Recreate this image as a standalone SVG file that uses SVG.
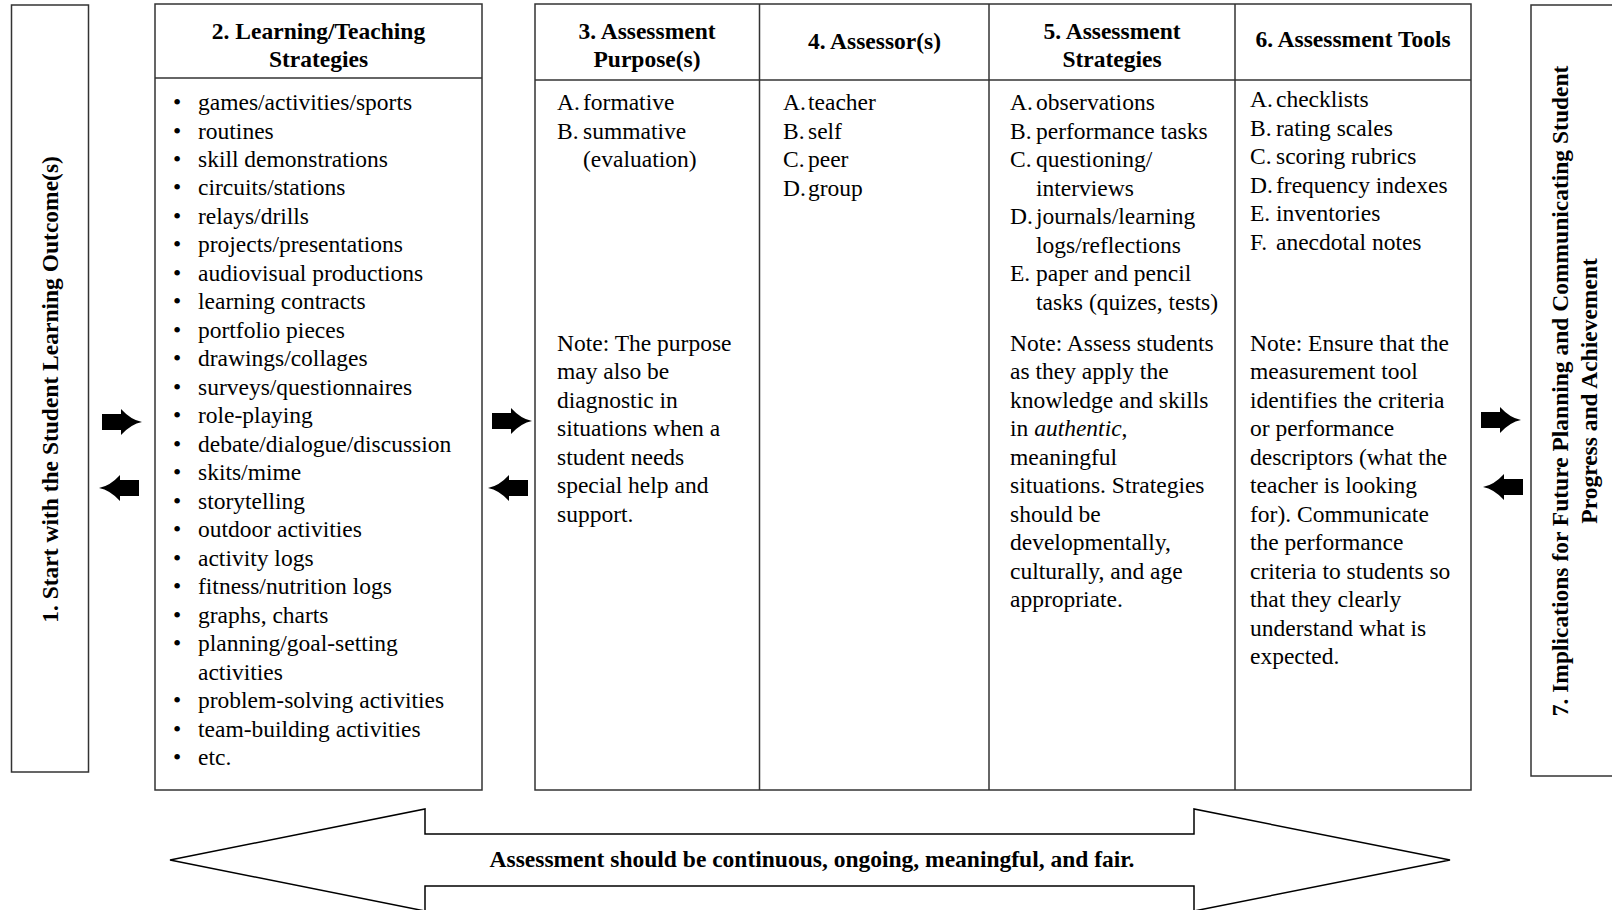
<svg xmlns="http://www.w3.org/2000/svg" width="1612" height="910" viewBox="0 0 1612 910">
<style>
  .box { fill: #fff; stroke: #333; stroke-width: 1.5; }
  .ln { stroke: #333; stroke-width: 1.5; fill: none; }
  text { font-family: "Liberation Serif", "Times New Roman", serif; font-size: 23.5px; fill: #000; }
  .b { font-weight: bold; }
  .c { text-anchor: middle; }
  .blk { fill: #000; stroke: none; }
</style>
<defs>
  <path id="arrR" d="M -40,-8 H -21 V -13 Q -11,-2 0,0 Q -11,2 -21,13 V 8 H -40 Z"/>
  <path id="arrL" d="M 40,-8 H 21 V -13 Q 11,-2 0,0 Q 11,2 21,13 V 8 H 40 Z"/>
</defs>
<rect width="1612" height="910" fill="#fff"/>

<g id="node-1">
  <rect class="box" x="11.5" y="5" width="77" height="767"/>
  <text class="b c" transform="translate(57.5,389.5) rotate(-90)">1. Start with the Student Learning Outcome(s)</text>
</g>

<g id="node-2">
  <rect class="box" x="155" y="4" width="327" height="786"/>
  <line class="ln" x1="155" y1="78" x2="482" y2="78"/>
  <text class="b c" x="318.5" y="38.5">2. Learning/Teaching</text>
  <text class="b c" x="318.5" y="67">Strategies</text>
  <g>
    <text class="c" x="177" y="110">•</text><text x="198" y="110">games/activities/sports</text>
    <text class="c" x="177" y="138.5">•</text><text x="198" y="138.5">routines</text>
    <text class="c" x="177" y="167">•</text><text x="198" y="167">skill demonstrations</text>
    <text class="c" x="177" y="195.4">•</text><text x="198" y="195.4">circuits/stations</text>
    <text class="c" x="177" y="223.9">•</text><text x="198" y="223.9">relays/drills</text>
    <text class="c" x="177" y="252.4">•</text><text x="198" y="252.4">projects/presentations</text>
    <text class="c" x="177" y="280.9">•</text><text x="198" y="280.9">audiovisual productions</text>
    <text class="c" x="177" y="309.4">•</text><text x="198" y="309.4">learning contracts</text>
    <text class="c" x="177" y="337.8">•</text><text x="198" y="337.8">portfolio pieces</text>
    <text class="c" x="177" y="366.3">•</text><text x="198" y="366.3">drawings/collages</text>
    <text class="c" x="177" y="394.8">•</text><text x="198" y="394.8">surveys/questionnaires</text>
    <text class="c" x="177" y="423.3">•</text><text x="198" y="423.3">role-playing</text>
    <text class="c" x="177" y="451.8">•</text><text x="198" y="451.8">debate/dialogue/discussion</text>
    <text class="c" x="177" y="480.2">•</text><text x="198" y="480.2">skits/mime</text>
    <text class="c" x="177" y="508.7">•</text><text x="198" y="508.7">storytelling</text>
    <text class="c" x="177" y="537.2">•</text><text x="198" y="537.2">outdoor activities</text>
    <text class="c" x="177" y="565.7">•</text><text x="198" y="565.7">activity logs</text>
    <text class="c" x="177" y="594.2">•</text><text x="198" y="594.2">fitness/nutrition logs</text>
    <text class="c" x="177" y="622.6">•</text><text x="198" y="622.6">graphs, charts</text>
    <text class="c" x="177" y="651.1">•</text><text x="198" y="651.1">planning/goal-setting</text>
    <text x="198" y="679.6">activities</text>
    <text class="c" x="177" y="708.1">•</text><text x="198" y="708.1">problem-solving activities</text>
    <text class="c" x="177" y="736.6">•</text><text x="198" y="736.6">team-building activities</text>
    <text class="c" x="177" y="765">•</text><text x="198" y="765">etc.</text>
  </g>
</g>

<g id="node-table">
  <rect class="box" x="535" y="4" width="936" height="786"/>
  <line class="ln" x1="535" y1="80" x2="1471" y2="80"/>
  <line class="ln" x1="759.5" y1="4" x2="759.5" y2="790"/>
  <line class="ln" x1="989" y1="4" x2="989" y2="790"/>
  <line class="ln" x1="1235" y1="4" x2="1235" y2="790"/>
</g>

<g id="node-3">
  <text class="b c" x="647" y="38.5">3. Assessment</text>
  <text class="b c" x="647" y="67">Purpose(s)</text>
  <text x="557" y="110">A.</text><text x="583" y="110">formative</text>
  <text x="557" y="138.5">B.</text><text x="583" y="138.5">summative</text>
  <text x="583" y="167">(evaluation)</text>
  <text x="557" y="350.5">Note: The purpose</text>
  <text x="557" y="379">may also be</text>
  <text x="557" y="407.5">diagnostic in</text>
  <text x="557" y="436">situations when a</text>
  <text x="557" y="464.5">student needs</text>
  <text x="557" y="493">special help and</text>
  <text x="557" y="521.5">support.</text>
</g>

<g id="node-4">
  <text class="b c" x="874.5" y="49">4. Assessor(s)</text>
  <text x="783" y="110">A.</text><text x="808" y="110">teacher</text>
  <text x="783" y="138.5">B.</text><text x="808" y="138.5">self</text>
  <text x="783" y="167">C.</text><text x="808" y="167">peer</text>
  <text x="783" y="195.5">D.</text><text x="808" y="195.5">group</text>
</g>

<g id="node-5">
  <text class="b c" x="1112" y="38.5">5. Assessment</text>
  <text class="b c" x="1112" y="67">Strategies</text>
  <text x="1010" y="110">A.</text><text x="1036" y="110">observations</text>
  <text x="1010" y="138.5">B.</text><text x="1036" y="138.5">performance tasks</text>
  <text x="1010" y="167">C.</text><text x="1036" y="167">questioning/</text>
  <text x="1036" y="195.5">interviews</text>
  <text x="1010" y="224">D.</text><text x="1036" y="224">journals/learning</text>
  <text x="1036" y="252.5">logs/reflections</text>
  <text x="1010" y="281">E.</text><text x="1036" y="281">paper and pencil</text>
  <text x="1036" y="309.5">tasks (quizes, tests)</text>
  <text x="1010" y="350.5">Note: Assess students</text>
  <text x="1010" y="379">as they apply the</text>
  <text x="1010" y="407.5">knowledge and skills</text>
  <text x="1010" y="436">in <tspan font-style="italic">authentic</tspan>,</text>
  <text x="1010" y="464.5">meaningful</text>
  <text x="1010" y="493">situations. Strategies</text>
  <text x="1010" y="521.5">should be</text>
  <text x="1010" y="550">developmentally,</text>
  <text x="1010" y="578.5">culturally, and age</text>
  <text x="1010" y="607">appropriate.</text>
</g>

<g id="node-6">
  <text class="b c" x="1353" y="47">6. Assessment Tools</text>
  <text x="1250" y="107">A.</text><text x="1276" y="107">checklists</text>
  <text x="1250" y="135.5">B.</text><text x="1276" y="135.5">rating scales</text>
  <text x="1250" y="164">C.</text><text x="1276" y="164">scoring rubrics</text>
  <text x="1250" y="192.5">D.</text><text x="1276" y="192.5">frequency indexes</text>
  <text x="1250" y="221">E.</text><text x="1276" y="221">inventories</text>
  <text x="1250" y="249.5">F.</text><text x="1276" y="249.5">anecdotal notes</text>
  <text x="1250" y="350.5">Note: Ensure that the</text>
  <text x="1250" y="379">measurement tool</text>
  <text x="1250" y="407.5">identifies the criteria</text>
  <text x="1250" y="436">or performance</text>
  <text x="1250" y="464.5">descriptors (what the</text>
  <text x="1250" y="493">teacher is looking</text>
  <text x="1250" y="521.5">for). Communicate</text>
  <text x="1250" y="550">the performance</text>
  <text x="1250" y="578.5">criteria to students so</text>
  <text x="1250" y="607">that they clearly</text>
  <text x="1250" y="635.5">understand what is</text>
  <text x="1250" y="664">expected.</text>
</g>

<g id="node-7">
  <rect class="box" x="1531" y="5" width="100" height="771"/>
  <text class="b c" transform="translate(1568,391) rotate(-90)">7. Implications for Future Planning and Communicating Student</text>
  <text class="b c" transform="translate(1597,391) rotate(-90)">Progress and Achievement</text>
</g>

<g id="connectors">
  <use href="#arrR" class="blk" transform="translate(142,422)"/>
  <use href="#arrL" class="blk" transform="translate(99,488)"/>
  <use href="#arrR" class="blk" transform="translate(532,421)"/>
  <use href="#arrL" class="blk" transform="translate(488,488)"/>
  <use href="#arrR" class="blk" transform="translate(1521,420)"/>
  <use href="#arrL" class="blk" transform="translate(1483,487)"/>
</g>

<g id="node-banner">
  <polygon points="170,860 425,809 425,834 1194,834 1194,809 1450,860 1194,911 1194,886 425,886 425,911" fill="#fff" stroke="#000" stroke-width="1.5"/>
  <text class="b c" x="812" y="867">Assessment should be continuous, ongoing, meaningful, and fair.</text>
</g>
</svg>
